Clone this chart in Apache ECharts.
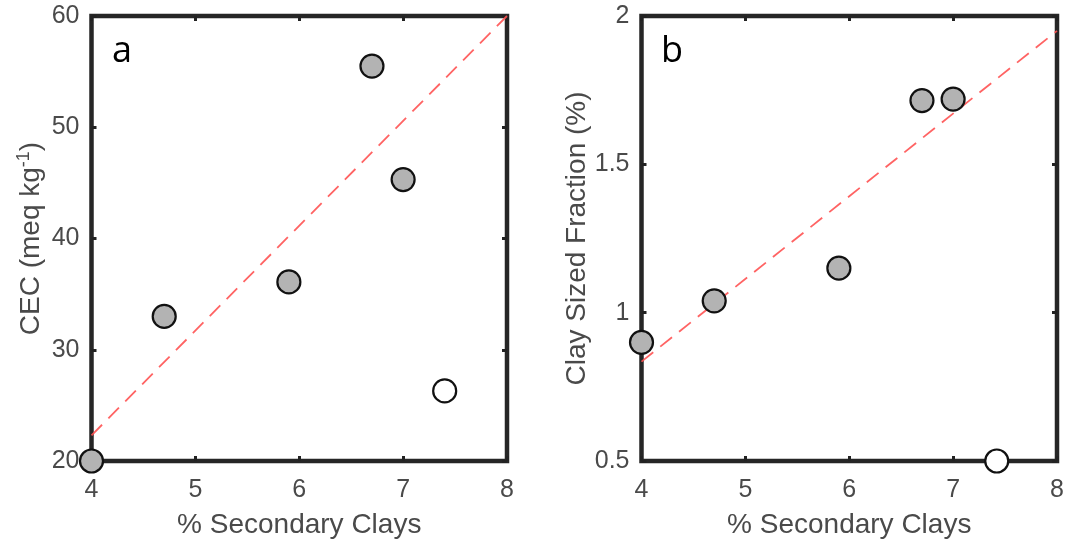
<!DOCTYPE html>
<html>
<head>
<meta charset="utf-8">
<script src="https://cdn.jsdelivr.net/npm/echarts@6/dist/echarts.min.js"></script>
<style>
  html, body { margin: 0; padding: 0; background: #fff; }
  #chart { width: 1067px; height: 548px; }
</style>
</head>
<body>
<div id="chart"></div>
<script>
// secondary clays (%) on x for both panels
var secClaysFilled = [4.0, 4.7, 5.9, 6.7, 7.0];
var secClaysOpen = [7.4];

// panel a: CEC
var cecFilled = [20.0, 33.0, 36.1, 55.5, 45.3];
var cecOpen = [26.3];
var cecFitX = [4, 8];
var cecFitY = [22.3, 60];

// panel b: clay sized fraction
var claySecFilled = [4.0, 4.7, 5.9, 6.7, 7.0];
var clayFilled = [0.90, 1.04, 1.15, 1.715, 1.72];
var claySecOpen = [7.42];
var clayOpen = [0.5];
var clayFitX = [4, 8];
var clayFitY = [0.835, 1.95];

function pairs(xs, ys) {
    return xs.map(function (x, i) { return [x, ys[i]]; });
}

var font = 'Liberation Sans';
var gray = '#4a4a4a';
var tickStyle = { inside: true, length: 5, lineStyle: { color: '#222', width: 3 } };

function xAxes(gi) {
    return [{
        type: 'value', gridIndex: gi, min: 4, max: 8, interval: 1,
        axisLine: { show: false },
        axisTick: tickStyle,
        splitLine: { show: false },
        axisLabel: { color: gray, fontFamily: font, fontSize: 25, margin: 17 },
        name: '% Secondary Clays', nameLocation: 'middle', nameGap: 50,
        nameTextStyle: { color: gray, fontFamily: font, fontSize: 28 }
    }, {
        type: 'value', gridIndex: gi, min: 4, max: 8, interval: 1, position: 'top',
        axisLine: { show: false },
        axisTick: tickStyle,
        splitLine: { show: false }, axisLabel: { show: false }
    }];
}

function yAxes(gi, min, max, interval, name, gap, rich) {
    return [{
        type: 'value', gridIndex: gi, min: min, max: max, interval: interval,
        axisLine: { show: false },
        axisTick: tickStyle,
        splitLine: { show: false },
        axisLabel: { color: gray, fontFamily: font, fontSize: 25, margin: 12 },
        name: name, nameLocation: 'middle', nameGap: gap,
        nameTextStyle: { color: gray, fontFamily: font, fontSize: 28, rich: rich }
    }, {
        type: 'value', gridIndex: gi, min: min, max: max, interval: interval, position: 'right',
        axisLine: { show: false },
        axisTick: tickStyle,
        splitLine: { show: false }, axisLabel: { show: false }
    }];
}

function scatter(xi, yi, data, fill) {
    return {
        type: 'scatter', xAxisIndex: xi, yAxisIndex: yi, data: data,
        symbolSize: 23, clip: false, z: 5,
        itemStyle: { color: fill, borderColor: '#111', borderWidth: 2.2, opacity: 1 }
    };
}

function fitLine(xi, yi, data) {
    return {
        type: 'line', xAxisIndex: xi, yAxisIndex: yi, data: data,
        symbol: 'none', z: 3, silent: true,
        lineStyle: { color: '#ff5252', width: 1.8, type: [15, 9], opacity: 0.9 }
    };
}

var chart = echarts.init(document.getElementById('chart'));
chart.setOption({
    animation: false,
    grid: [
        { left: 91.5, right: 560, top: 16, bottom: 87, show: true, borderColor: '#262626', borderWidth: 4.5, backgroundColor: '#fff' },
        { left: 641.5, right: 10, top: 16, bottom: 87, show: true, borderColor: '#262626', borderWidth: 4.5, backgroundColor: '#fff' }
    ],
    xAxis: xAxes(0).concat(xAxes(1)),
    yAxis: yAxes(0, 20, 60, 10, 'CEC (meq kg{sup|-1})', 44,
            { sup: { fontSize: 18, color: gray, fontFamily: font, padding: [0, 0, 14, 0] } })
        .concat(yAxes(1, 0.5, 2, 0.5, 'Clay Sized Fraction (%)', 48)),
    series: [
        fitLine(0, 0, pairs(cecFitX, cecFitY)),
        scatter(0, 0, pairs(secClaysFilled, cecFilled), '#b3b3b3'),
        scatter(0, 0, pairs(secClaysOpen, cecOpen), '#ffffff'),
        fitLine(2, 2, pairs(clayFitX, clayFitY)),
        scatter(2, 2, pairs(claySecFilled, clayFilled), '#b3b3b3'),
        scatter(2, 2, pairs(claySecOpen, clayOpen), '#ffffff')
    ],
    graphic: [
        { type: 'text', x: 112, y: 34, style: { text: 'a', fontSize: 36, fontFamily: 'Open Sans', fill: '#000' } },
        { type: 'text', x: 661, y: 34, style: { text: 'b', fontSize: 36, fontFamily: 'Open Sans', fill: '#000' } }
    ]
});

window.addEventListener('resize', function () {
    chart.resize();
});
</script>
</body>
</html>
